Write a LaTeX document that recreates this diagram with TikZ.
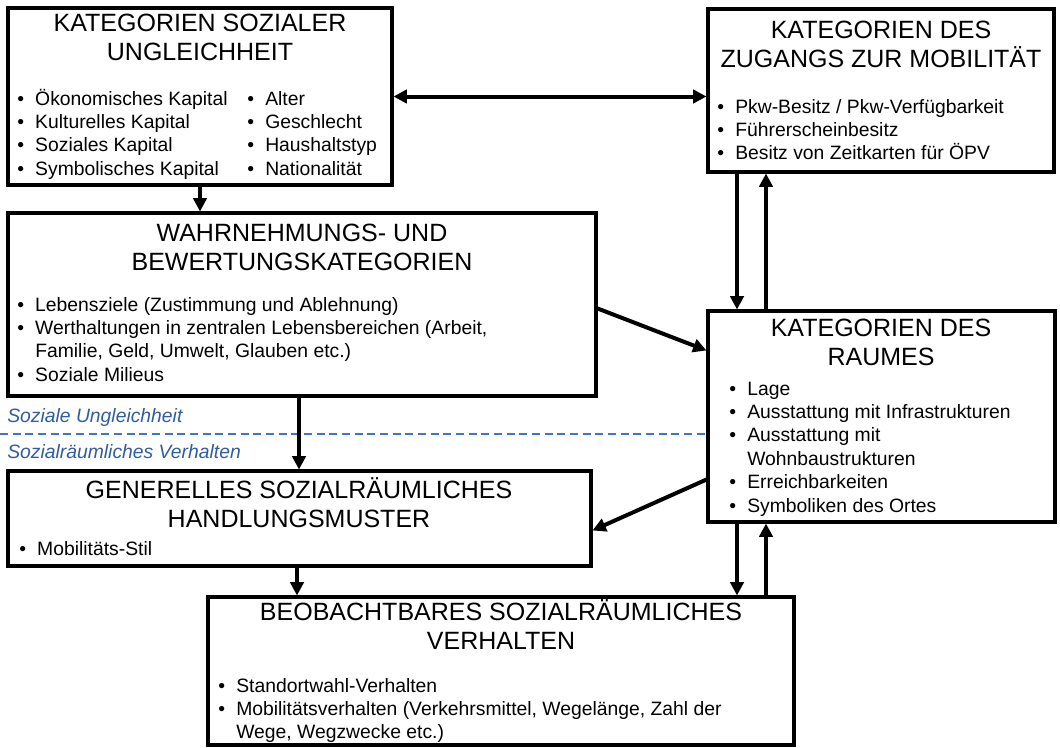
\documentclass[tikz,border=0pt]{standalone}
\usepackage{fontspec}
\setmainfont{Liberation Sans}
\usetikzlibrary{arrows.meta,calc,fit}
\definecolor{labelblue}{RGB}{47,93,160}
\definecolor{lineblue}{RGB}{68,114,196}
\newcommand{\titlefont}{\fontsize{18.75}{21.5}\selectfont}
\newcommand{\bodyfont}{\fontsize{14.5}{17.6}\selectfont}
\newenvironment{blist}{\bodyfont\begin{tabular}[t]{@{}p{13.5pt}@{}l@{}}}{\end{tabular}}
\newcommand{\bi}{\textbullet &}
\tikzset{
  box/.style={draw, line width=2.3pt, inner sep=0pt, rectangle},
  titletext/.style={anchor=base, align=center, inner sep=0pt, font=\titlefont},
  listtext/.style={anchor=base west, inner sep=0pt},
  arr/.style={line width=3pt, -{Triangle[length=10pt,width=10pt]}},
  darr/.style={line width=3pt, {Triangle[length=10pt,width=10pt]}-{Triangle[length=10pt,width=10pt]}},
  sepline/.style={lineblue, line width=1.5pt, dash pattern=on 6pt off 3.5pt},
  sidelabel/.style={anchor=base west, inner sep=0pt, text=labelblue, font=\bodyfont\itshape}
}
\begin{document}
\begin{tikzpicture}[x=0.75pt,y=-0.75pt]
\useasboundingbox (0,0) rectangle (1060,747);

% boxes
\node[box, fit={(8,8) (392,185)}] (b1) {};
\node[box, fit={(708,9) (1054,172)}] (b2) {};
\node[box, fit={(8,213) (596,396)}] (b3) {};
\node[box, fit={(708,311) (1055,522)}] (b4) {};
\node[box, fit={(8,471) (591,566)}] (b5) {};
\node[box, fit={(208,597) (794,745)}] (b6) {};

% titles (anchored at the baseline of the last line)
\node[titletext] (t1) at (200,60) {KATEGORIEN SOZIALER\\UNGLEICHHEIT};
\node[titletext] (t2) at (881,67) {KATEGORIEN DES\\ZUGANGS ZUR MOBILITÄT};
\node[titletext] (t3) at (302,270) {WAHRNEHMUNGS- UND\\BEWERTUNGSKATEGORIEN};
\node[titletext] (t4) at (881,365) {KATEGORIEN DES\\RAUMES};
\node[titletext] (t5) at (299,527) {GENERELLES SOZIALRÄUMLICHES\\HANDLUNGSMUSTER};
\node[titletext] (t6) at (501,649) {BEOBACHTBARES SOZIALRÄUMLICHES\\VERHALTEN};

% lists
\node[listtext] (l1a) at (17,105) {\begin{blist}
\bi Ökonomisches Kapital\\ \bi Kulturelles Kapital\\ \bi Soziales Kapital\\ \bi Symbolisches Kapital
\end{blist}};
\node[listtext] (l1b) at (247,105) {\begin{blist}
\bi Alter\\ \bi Geschlecht\\ \bi Haushaltstyp\\ \bi Nationalität
\end{blist}};
\node[listtext] (l2) at (717,113) {\begin{blist}
\bi Pkw-Besitz / Pkw-Verfügbarkeit\\ \bi Führerscheinbesitz\\ \bi Besitz von Zeitkarten für ÖPV
\end{blist}};
\node[listtext] (l3) at (17,311) {\begin{blist}
\bi Lebensziele (Zustimmung und Ablehnung)\\
\bi Werthaltungen in zentralen Lebensbereichen (Arbeit,\\
 & Familie, Geld, Umwelt, Glauben etc.)\\
\bi Soziale Milieus
\end{blist}};
\node[listtext] (l4) at (729,395) {\begin{blist}
\bi Lage\\ \bi Ausstattung mit Infrastrukturen\\ \bi Ausstattung mit\\ & Wohnbaustrukturen\\ \bi Erreichbarkeiten\\ \bi Symboliken des Ortes
\end{blist}};
\node[listtext] (l5) at (19,555) {\begin{blist}
\bi Mobilitäts-Stil
\end{blist}};
\node[listtext] (l6) at (218,692) {\begin{blist}
\bi Standortwahl-Verhalten\\
\bi Mobilitätsverhalten (Verkehrsmittel, Wegelänge, Zahl der\\
 & Wege, Wegzwecke etc.)
\end{blist}};

% separator
\coordinate (sepL) at (0,434);
\draw[sepline] (sepL) -- (sepL -| b4.west);
\node[sidelabel] (s1) at (7,422) {Soziale Ungleichheit};
\node[sidelabel] (s2) at (7,458) {Sozialräumliches Verhalten};

% connector columns
\coordinate (xdown) at (737,0);
\coordinate (xup) at (766,0);
\coordinate (x35) at (299,0);
\coordinate (x56) at (297,0);

\draw[darr] (b1.east) -- (b1.east -| b2.west);
\draw[arr] (b1.south) -- (b1.south |- b3.north);
\draw[arr] (b2.south -| xdown) -- (b4.north -| xdown);
\draw[arr] (b4.north -| xup) -- (b2.south -| xup);
\draw[arr] ($(b3.north east)+(0,97)$) -- ($(b4.north west)+(0,41)$);
\draw[arr] (b3.south -| x35) -- (b5.north -| x35);
\draw[arr] ($(b4.south west)+(0,-44)$) -- ($(b5.north east)+(0,61)$);
\draw[arr] (b5.south -| x56) -- (b6.north -| x56);
\draw[arr] (b4.south -| xdown) -- (b6.north -| xdown);
\draw[arr] (b6.north -| xup) -- (b4.south -| xup);
\end{tikzpicture}
\end{document}
